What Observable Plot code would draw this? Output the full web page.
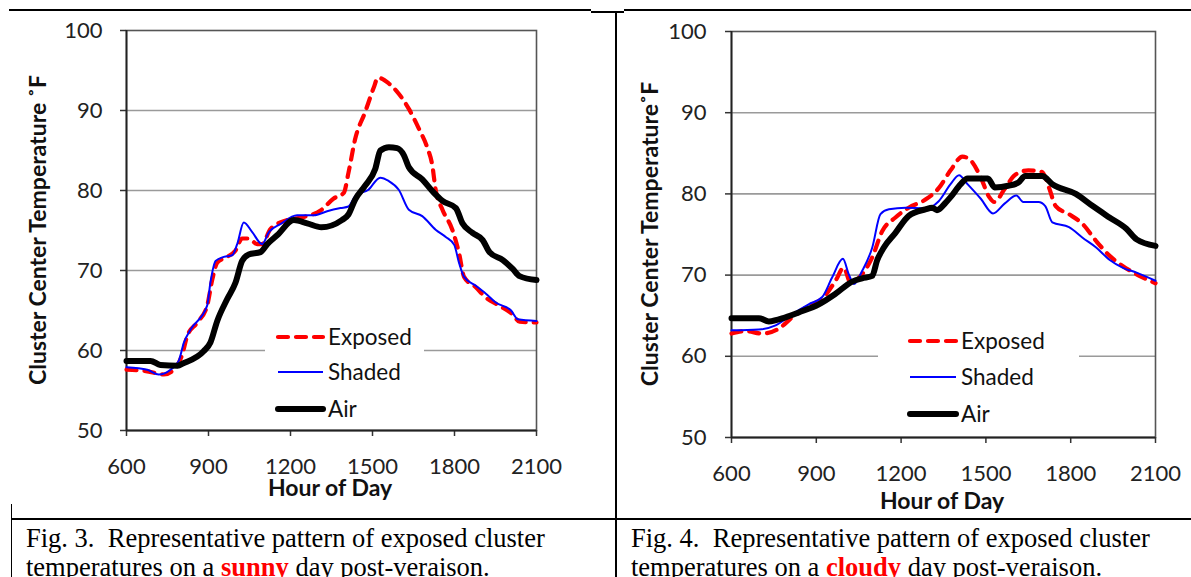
<!DOCTYPE html>
<html><head><meta charset="utf-8">
<script src="https://cdn.jsdelivr.net/npm/d3@7"></script>
<script src="https://cdn.jsdelivr.net/npm/@observablehq/plot@0.6"></script>
<style>
html,body{margin:0;padding:0;background:#fff}
body{width:1191px;height:577px;overflow:hidden;position:relative;font-family:Lato,sans-serif;color:#111}
.abs{position:absolute}
.bl{position:absolute;background:#000}
.ytitle{position:absolute;font-weight:bold;font-size:23px;white-space:nowrap;transform:translate(-50%,-50%) rotate(-90deg);color:#111}
.xtitle{position:absolute;font-weight:bold;font-size:23px;white-space:nowrap;transform:translate(-50%,-50%);color:#111}
.cap{position:absolute;font-family:"Liberation Serif","Times New Roman",serif;font-size:26.5px;line-height:29px;white-space:pre;color:#000}
.cap b{color:#ff0000}
</style></head><body>
<div id="left" class="abs" style="left:0;top:0"></div>
<div id="right" class="abs" style="left:600px;top:0"></div>
<script>
// ---- data: [hour, temperature °F] ----
const xTicks = [600, 900, 1200, 1500, 1800, 2100];
const yTicks = [50, 60, 70, 80, 90, 100];
const gridTicks = [60, 70, 80, 90];
const seriesNames = ["Exposed", "Shaded", "Air"];

const sunnyExposed = [[600,57.6],[676,57.4],[737,57.0],[773,57.6],[804,59.5],[822,61.8],[859,63.5],[895,65.6],[914,68.9],[932,71],[968,71.7],[999,72.5],[1023,74],[1047,74],[1078,73.3],[1096,73.3],[1127,75.2],[1188,76.3],[1249,76.7],[1310,77.5],[1358,79],[1395,79.7],[1412,82.2],[1437,86.5],[1473,89.8],[1504,92.8],[1520,94.1],[1559,93.4],[1596,92.1],[1633,90.2],[1670,87.7],[1700,85.4],[1719,83.1],[1731,80.1],[1756,77.6],[1792,75.1],[1817,72.1],[1835,69.2],[1878,67.9],[1915,66.6],[1964,65.6],[2013,64.5],[2038,63.6],[2100,63.5]];
const sunnyShaded = [[600,57.9],[676,57.6],[718,57.0],[761,57.6],[791,58.7],[810,61],[834,62.6],[895,65.6],[907,68.5],[926,71.2],[956,71.7],[987,71.9],[1005,73.3],[1029,76.0],[1060,74.8],[1096,73.3],[1121,74.8],[1163,75.8],[1224,76.9],[1285,76.9],[1334,77.4],[1383,77.8],[1412,78.0],[1437,79.3],[1485,80.1],[1528,81.6],[1559,81.2],[1596,80.1],[1633,77.6],[1682,76.8],[1731,75.1],[1768,74.2],[1799,73.2],[1817,70.9],[1835,69.2],[1878,68.1],[1915,67.1],[1951,66.0],[2007,65.0],[2032,63.9],[2100,63.7]];
const sunnyAir = [[600,58.7],[688,58.7],[724,58.2],[787,58.1],[808,58.4],[882,59.9],[907,61],[932,63.7],[968,66.4],[999,68.5],[1023,71.2],[1047,72],[1090,72.3],[1115,73.3],[1151,74.4],[1212,76.3],[1261,75.9],[1313,75.4],[1388,76.3],[1412,77.0],[1437,78.9],[1473,80.6],[1510,82.7],[1529,85.0],[1560,85.4],[1590,85.3],[1615,84.4],[1633,82.9],[1682,81.4],[1725,79.7],[1756,78.7],[1805,77.8],[1829,75.9],[1866,74.7],[1903,73.8],[1928,72.3],[1977,71.3],[2013,70.2],[2038,69.3],[2100,68.8]];

const cloudyExposed = [[600,62.8],[650,63.1],[709,62.8],[767,63.4],[815,64.8],[873,66.2],[921,67.1],[968,69.3],[997,70.9],[1021,69.1],[1062,70.1],[1098,72.2],[1133,75.4],[1180,77.1],[1227,78.3],[1286,79.3],[1333,80.7],[1375,82.9],[1417,84.6],[1447,84.1],[1482,82.0],[1512,79.6],[1530,79.0],[1566,80.6],[1602,82.3],[1650,82.9],[1699,82.7],[1723,80.8],[1747,78.5],[1794,77.5],[1842,76.3],[1890,74.2],[1937,72.4],[1985,71.1],[2033,70.1],[2100,69.0]];
const cloudyShaded = [[600,63.2],[697,63.3],[756,63.8],[815,65.2],[873,66.4],[921,67.3],[956,69.7],[994,72.0],[1015,70.1],[1033,68.9],[1062,70.5],[1098,73.4],[1127,77.5],[1157,78.1],[1216,78.3],[1286,78.2],[1333,79.1],[1375,81.2],[1405,82.3],[1435,81.2],[1482,79.4],[1525,77.6],[1566,78.8],[1608,79.8],[1632,79.0],[1686,79.0],[1710,78.5],[1735,76.5],[1794,75.9],[1842,74.6],[1890,73.4],[1937,71.9],[1985,70.9],[2033,70.3],[2100,69.3]];
const cloudyAir = [[600,64.7],[697,64.7],[732,64.3],[791,64.8],[838,65.4],[909,66.4],[968,67.7],[1027,69.2],[1062,69.6],[1098,69.9],[1115,71.8],[1139,73.4],[1180,75.2],[1227,77.3],[1286,78.1],[1310,78.3],[1327,78.0],[1357,78.9],[1375,79.6],[1411,81.2],[1435,81.9],[1507,81.9],[1531,80.8],[1579,81.0],[1615,81.4],[1639,82.2],[1699,82.2],[1735,81.2],[1818,80.0],[1878,78.5],[1937,77.1],[1997,75.7],[2033,74.4],[2100,73.6]];

const styles = {
  Exposed: {stroke:"#ff0000", strokeWidth:4.2, strokeDasharray:"10,8", strokeLinecap:"round"},
  Shaded: {stroke:"#0000ff", strokeWidth:2},
  Air: {stroke:"#000000", strokeWidth:6, strokeLinecap:"round"}
};

function chart(o) {
  const lineOpts = (name) => ({x: d => d[0], y: d => d[1], curve: "monotone-x", strokeLinejoin: "round", ...styles[name]});
  return Plot.plot({
    width: o.w, height: o.h,
    marginLeft: o.ml, marginRight: o.mr, marginTop: o.mt, marginBottom: o.mb,
    style: {fontFamily: "Lato", fontSize: "22px", color: "#222", background: "transparent", overflow: "visible"},
    x: {domain: [600, 2100]},
    y: {domain: [50, 100]},
    marks: [
      Plot.gridY(gridTicks, {stroke: "#9a9a9a", strokeOpacity: 1, strokeWidth: 1.6}),
      Plot.frame({stroke: "#555", strokeWidth: 1.6}),
      Plot.axisY(yTicks, {tickSize: 6, tickPadding: o.ypad, label: null, stroke: "#333", strokeWidth: 1.5, tickFormat: d => String(d)}),
      Plot.axisX(xTicks, {tickSize: 6, tickPadding: 22, label: null, stroke: "#333", strokeWidth: 1.5, tickFormat: d => String(d)}),
      Plot.ruleX([600], {stroke: "#222", strokeWidth: 1.8}),
      Plot.ruleY([50], {stroke: "#222", strokeWidth: 1.8}),
      Plot.line(o.exposed, lineOpts("Exposed")),
      Plot.line(o.shaded, lineOpts("Shaded")),
      Plot.line(o.air, lineOpts("Air"))
    ]
  });
}

document.getElementById("left").append(chart({w:600,h:520,ml:126,mr:64,mt:30,mb:90,ypad:18,exposed:sunnyExposed,shaded:sunnyShaded,air:sunnyAir}));
document.getElementById("right").append(chart({w:591,h:520,ml:131,mr:36,mt:31,mb:83,ypad:19,exposed:cloudyExposed,shaded:cloudyShaded,air:cloudyAir}));

// legends (inside plot area, white box)
function legend(o) {
  const svg = d3.select(document.body).append("svg").attr("class","abs")
    .style("left", o.left + "px").style("top", o.top + "px")
    .attr("width", o.w).attr("height", o.h);
  svg.append("rect").attr("width", o.w).attr("height", o.h).attr("fill", "#fff");
  seriesNames.forEach((name, i) => {
    const s = styles[name];
    const y = o.ys[i] - o.top;
    svg.append("line").attr("x1", o.x0 - o.left).attr("x2", o.x1 - o.left).attr("y1", y).attr("y2", y)
      .attr("stroke", s.stroke).attr("stroke-width", s.strokeWidth)
      .attr("stroke-dasharray", s.strokeDasharray || null).attr("stroke-linecap", s.strokeLinecap || "butt");
    svg.append("text").attr("x", o.tx - o.left).attr("y", y).attr("dy", "0.35em")
      .attr("font-family", "Lato").attr("font-size", 22.5).attr("fill", "#111").text(name);
  });
}
legend({left:265, top:318, w:159, h:106, x0:278, x1:323, tx:328, ys:[337,372,409]});
legend({left:878, top:322, w:201, h:108, x0:910, x1:956, tx:961, ys:[341,377,414]});

// axis titles
function addDiv(cls, html, css) {
  const d = document.createElement("div");
  d.className = cls; d.innerHTML = html; Object.assign(d.style, css);
  document.body.append(d); return d;
}
addDiv("ytitle", "Cluster Center Temperature ˚F", {left:"37px", top:"230px"});
addDiv("ytitle", "Cluster Center Temperature˚F", {left:"649px", top:"234px"});
addDiv("xtitle", "Hour of Day", {left:"330px", top:"487px"});
addDiv("xtitle", "Hour of Day", {left:"942px", top:"500px"});

// table borders
const borders = [
  {left:9, top:9, width:582, height:1.5},
  {left:591, top:10.5, width:33, height:2.5},
  {left:624, top:9, width:567, height:1.5},
  {left:615, top:11, width:1.5, height:566},
  {left:10.5, top:504, width:1.5, height:73},
  {left:10.5, top:518, width:1180.5, height:1.5}
];
borders.forEach(b => addDiv("bl", "", {left:b.left+"px", top:b.top+"px", width:b.width+"px", height:b.height+"px"}));

// captions
addDiv("cap", "Fig. 3.  Representative pattern of exposed cluster\ntemperatures on a <b>sunny</b> day post-veraison.", {left:"26px", top:"524px"});
addDiv("cap", "Fig. 4.  Representative pattern of exposed cluster\ntemperatures on a <b>cloudy</b> day post-veraison.", {left:"631px", top:"524px"});
</script>
</body></html>
